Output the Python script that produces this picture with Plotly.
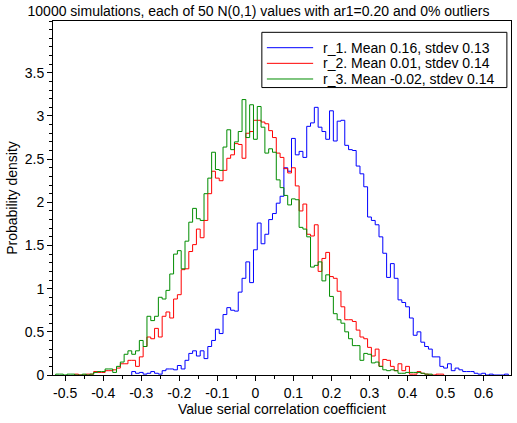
import numpy as np
import plotly.graph_objects as go

# histogram densities, bins of width 0.01 centred on multiples of 0.01
BIN_W = 0.01

r1_first = -0.32
r1_dens = [0.04, 0.02, 0.03, 0.01, 0.02, 0.04, 0.02, 0.01, 0.05, 0.07,
           0.07, 0.06, 0.11, 0.07, 0.17, 0.25, 0.28, 0.22, 0.28, 0.19,
           0.33, 0.40, 0.53, 0.48, 0.70, 0.78, 0.75, 0.74, 0.96, 1.12,
           1.31, 1.07, 1.45, 1.76, 1.52, 1.63, 1.80, 1.87, 1.99, 2.07,
           2.40, 2.36, 2.74, 2.55, 2.59, 2.52, 2.88, 2.92, 3.10, 2.87,
           2.82, 2.73, 3.06, 2.71, 2.94, 2.95, 2.66, 2.61, 2.60, 2.42,
           2.33, 2.18, 1.83, 1.79, 1.74, 1.60, 1.41, 1.13, 1.29, 1.12,
           0.87, 0.84, 0.79, 0.66, 0.46, 0.50, 0.38, 0.33, 0.30, 0.21,
           0.21, 0.10, 0.08, 0.13, 0.05, 0.08, 0.06, 0.04, 0.04, 0.04,
           0.02, 0.01, 0.02, 0.00, 0.01, 0.00, 0.00, 0.00, 0.01]

r2_first = -0.47
r2_dens = [0.01, 0.00, 0.00, 0.01, 0.01, 0.04, 0.03, 0.03, 0.05, 0.05,
           0.06, 0.08, 0.13, 0.13, 0.17, 0.17, 0.10, 0.21, 0.33, 0.44,
           0.42, 0.54, 0.44, 0.68, 0.73, 0.66, 0.88, 0.93, 1.22, 1.23,
           1.43, 1.51, 1.69, 1.59, 1.79, 2.10, 2.36, 2.28, 2.25, 2.37,
           2.51, 2.55, 2.68, 2.67, 2.51, 2.80, 2.82, 2.95, 2.95, 2.93,
           2.91, 2.83, 2.75, 2.57, 2.52, 2.39, 2.34, 2.40, 2.19, 1.90,
           1.98, 1.63, 1.61, 1.74, 1.20, 1.35, 1.42, 1.14, 1.12, 0.97,
           0.79, 0.64, 0.64, 0.62, 0.52, 0.44, 0.42, 0.32, 0.22, 0.30,
           0.10, 0.18, 0.17, 0.10, 0.05, 0.13, 0.05, 0.10, 0.01, 0.01,
           0.04, 0.02, 0.01, 0.00, 0.00, 0.01, 0.01]

r3_first = -0.52
r3_dens = [0.01, 0.01, 0.00, 0.01, 0.01, 0.00, 0.00, 0.01, 0.00, 0.01,
           0.03, 0.04, 0.04, 0.07, 0.07, 0.03, 0.10, 0.15, 0.24, 0.28,
           0.24, 0.28, 0.40, 0.33, 0.68, 0.63, 0.68, 0.90, 0.88, 0.98,
           1.17, 1.40, 1.44, 1.23, 1.55, 1.77, 1.93, 1.81, 1.79, 2.10,
           2.28, 2.58, 2.38, 2.37, 2.64, 2.84, 2.61, 2.70, 2.82, 3.19,
           2.75, 3.13, 2.73, 3.11, 2.87, 2.57, 2.62, 2.58, 2.26, 2.17,
           2.08, 1.97, 2.04, 2.03, 1.71, 1.69, 1.60, 1.25, 1.27, 1.31,
           1.09, 1.16, 0.91, 0.71, 0.64, 0.60, 0.50, 0.42, 0.34, 0.34,
           0.17, 0.25, 0.24, 0.14, 0.15, 0.10, 0.06, 0.05, 0.06, 0.05,
           0.02, 0.02, 0.03, 0.03, 0.03, 0.03, 0.02, 0.01, 0.01]

series = [
    ("r_1. Mean 0.16, stdev 0.13", r1_first, r1_dens, "#0000ff"),
    ("r_2. Mean 0.01, stdev 0.14", r2_first, r2_dens, "#ff0000"),
    ("r_3. Mean -0.02, stdev 0.14", r3_first, r3_dens, "#008c00"),
]

x_ticks = [-0.5, -0.4, -0.3, -0.2, -0.1, 0, 0.1, 0.2, 0.3, 0.4, 0.5, 0.6]
y_ticks = [0, 0.5, 1, 1.5, 2, 2.5, 3, 3.5]

title = "10000 simulations, each of 50 N(0,1) values with ar1=0.20 and 0% outliers"


def step_outline(first, dens):
    # left edges of every bin plus the final right edge, closed to zero
    edges = first - BIN_W / 2 + BIN_W * np.arange(len(dens) + 1)
    xs = [edges[0]] + list(edges)
    ys = [0.0] + list(dens) + [0.0]
    return xs, ys


fig = go.Figure()
for name, first, dens, color in series:
    xs, ys = step_outline(first, dens)
    fig.add_trace(go.Scatter(x=xs, y=ys, mode="lines", name=name,
                             line=dict(color=color, width=1, shape="hv"),
                             showlegend=False))

# legend box drawn by hand (tighter rows than plotly's own legend)
LEG_X0, LEG_X1, LEG_TOP, LEG_BOT = 0.456, 0.991, 0.968, 0.812
ROW0, ROW_STEP = 0.9246, 0.0442
LINE_X0, LINE_X1, TEXT_X = 0.467, 0.568, 0.585

fig.add_shape(type="rect", xref="paper", yref="paper",
              x0=LEG_X0, x1=LEG_X1, y0=LEG_BOT, y1=LEG_TOP,
              line=dict(color="black", width=1), fillcolor="white", layer="above")
for i, (name, _, _, color) in enumerate(series):
    yy = ROW0 - i * ROW_STEP
    fig.add_shape(type="line", xref="paper", yref="paper",
                  x0=LINE_X0, x1=LINE_X1, y0=yy, y1=yy,
                  line=dict(color=color, width=1), layer="above")
    fig.add_annotation(x=TEXT_X, y=yy, xref="paper", yref="paper",
                       text=name, showarrow=False, xanchor="left",
                       yanchor="middle", font=dict(size=14, color="black"))

axis_common = dict(showgrid=False, zeroline=False, showline=True, mirror=True,
                   linecolor="black", linewidth=1, ticks="outside",
                   ticklen=5, tickcolor="black", automargin=False,
                   tickfont=dict(size=14, color="black"))

fig.update_xaxes(range=[-0.532, 0.672], tickvals=x_ticks,
                 ticktext=[f"{v:g}" for v in x_ticks],
                 minor=dict(dtick=0.05, tick0=0, ticks="outside", ticklen=3,
                            tickcolor="black"),
                 title=dict(text="Value serial correlation coefficient",
                            font=dict(size=14, color="black"), standoff=2),
                 **axis_common)
fig.update_yaxes(range=[0, 4.1], tickvals=y_ticks,
                 ticktext=[f"{v:g}" for v in y_ticks],
                 minor=dict(dtick=0.1, tick0=0, ticks="outside", ticklen=3,
                            tickcolor="black"),
                 title=dict(text="Probability density",
                            font=dict(size=14, color="black"), standoff=3),
                 **axis_common)

fig.update_layout(
    width=517, height=423,
    margin=dict(l=53, r=6, t=21, b=48),
    paper_bgcolor="white", plot_bgcolor="white",
    font=dict(family="Liberation Sans, Arial, sans-serif", size=14, color="black"),
    title=dict(text=title, x=0.5, xanchor="center", y=1 - 11 / 423,
               yref="container", yanchor="middle",
               font=dict(size=14, color="black")),
    showlegend=False,
)

fig.write_html("out.html", config={"displayModeBar": False},
               post_script="document.body.style.margin = '0px';")
